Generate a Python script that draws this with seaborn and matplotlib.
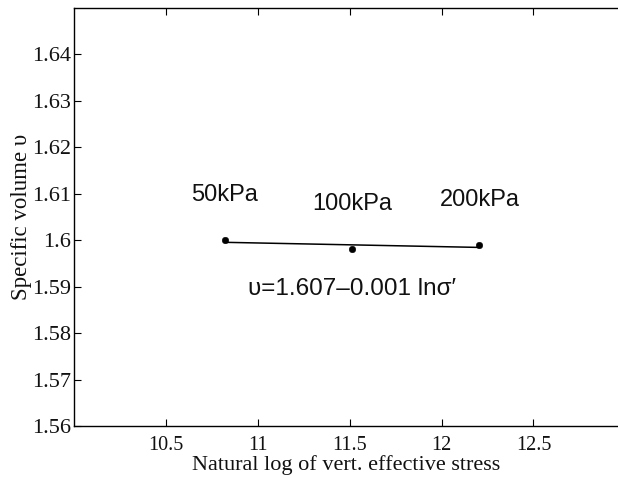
import numpy as np
import pandas as pd
import matplotlib
matplotlib.use("Agg")
import matplotlib.pyplot as plt
from matplotlib.ticker import FormatStrFormatter
import seaborn as sns

# Consolidation data: vertical effective stress and measured specific volume
stress_labels = ["50kPa", "100kPa", "200kPa"]
stress_pa = [50000, 100000, 200000]
specific_volume = [1.6000, 1.5981, 1.5989]
x_ticks = [10.5, 11, 11.5, 12, 12.5]
y_ticks = [1.56, 1.57, 1.58, 1.59, 1.60, 1.61, 1.62, 1.63, 1.64]

df = pd.DataFrame({
    "ln_stress": np.log(stress_pa),
    "v": specific_volume,
    "label": stress_labels,
})

sns.set_theme(style="white")
plt.rcParams["font.family"] = ["Liberation Serif", "DejaVu Serif"]

fig = plt.figure(figsize=(6.18, 4.78), dpi=100)
ax = fig.add_axes([74 / 618, 52 / 478, 1 - 74 / 618, (426 - 8) / 478])

# Fitted straight line through the three points
sns.regplot(data=df, x="ln_stress", y="v", ci=None, ax=ax,
            scatter=False, line_kws=dict(color="black", lw=1.1))
sns.scatterplot(data=df, x="ln_stress", y="v", ax=ax, color="black",
                s=22, edgecolor="black", zorder=3)

# Stress annotations above each point
sans = ["Liberation Sans", "DejaVu Sans"]
for _, row in df.iterrows():
    ax.text(row["ln_stress"], row["v"] + 0.0097, row["label"],
            ha="center", va="center", fontsize=17, family=sans,
            color="#111111")

ax.text(11.51, 1.5895, "\u03c5=1.607\u20130.001 ln\u03c3\u2032",
        ha="center", va="center", fontsize=17.5, family=sans,
        color="#111111")

ax.set_xlim(10.0, 12.96)
ax.set_ylim(1.56, 1.65)
ax.set_xticks(x_ticks)
ax.set_yticks(y_ticks)
ax.xaxis.set_major_formatter(FormatStrFormatter("%g"))
ax.yaxis.set_major_formatter(FormatStrFormatter("%g"))

ax.tick_params(axis="both", which="major", direction="in", length=5,
               width=0.8, color="black", labelcolor="#111111",
               top=True, bottom=True, left=True, right=False)
ax.tick_params(axis="x", labelsize=14.5, pad=7)
ax.tick_params(axis="y", labelsize=16, pad=2)

for side in ["left", "bottom", "top"]:
    ax.spines[side].set_visible(True)
    ax.spines[side].set_color("black")
    ax.spines[side].set_linewidth(1.0)
ax.spines["right"].set_visible(False)

ax.set_xlabel("Natural log of vert. effective stress", fontsize=16,
              color="#111111", labelpad=0)
ax.set_ylabel("Specific volume \u03c5", fontsize=16.5, color="#111111",
              labelpad=0)
ax.grid(False)

fig.savefig("out.png", dpi=100)
